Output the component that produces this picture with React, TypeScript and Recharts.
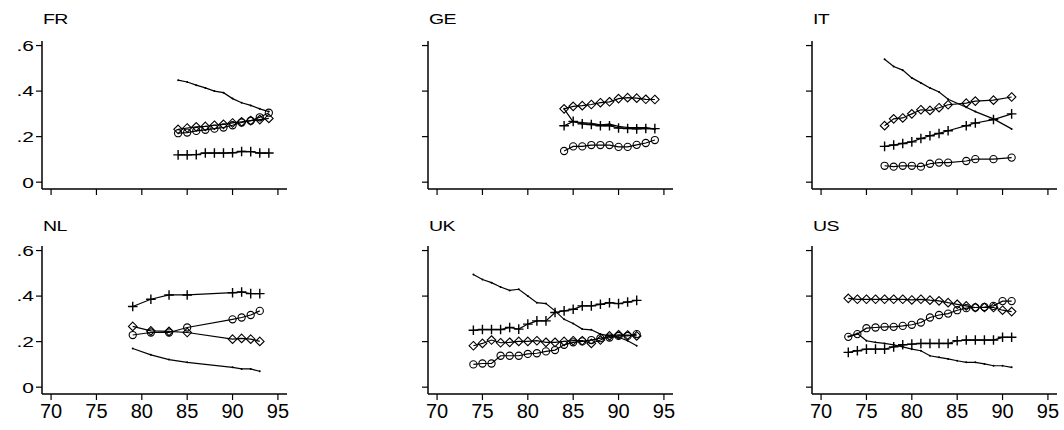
import React from "react";
import { Line, LineChart, XAxis, YAxis } from "recharts";

const xTicks = [70, 75, 80, 85, 90, 95];
const yTicks = [0, 0.2, 0.4, 0.6];

const frYears = [84, 85, 86, 87, 88, 89, 90, 91, 92, 93, 94];
const frLine = [0.448, 0.44, 0.426, 0.414, 0.4, 0.393, 0.367, 0.349, 0.337, 0.322, 0.31];
const frCircle = [0.215, 0.218, 0.225, 0.23, 0.235, 0.24, 0.25, 0.262, 0.27, 0.285, 0.305];
const frDiamond = [0.232, 0.238, 0.243, 0.245, 0.25, 0.254, 0.26, 0.265, 0.27, 0.275, 0.28];
const frPlus = [0.12, 0.12, 0.121, 0.128, 0.128, 0.128, 0.129, 0.135, 0.134, 0.128, 0.128];

const geYears = [84, 85, 86, 87, 88, 89, 90, 91, 92, 93, 94];
const geLine = [0.322, 0.265, 0.262, 0.258, 0.252, 0.255, 0.245, 0.24, 0.24, 0.24, 0.232];
const geCircle = [0.137, 0.157, 0.157, 0.163, 0.163, 0.163, 0.155, 0.155, 0.164, 0.172, 0.185];
const geDiamond = [0.322, 0.333, 0.336, 0.341, 0.349, 0.353, 0.367, 0.371, 0.369, 0.364, 0.363];
const gePlus = [0.248, 0.267, 0.256, 0.253, 0.248, 0.248, 0.238, 0.236, 0.234, 0.236, 0.235];

const itYears = [77, 78, 79, 80, 81, 82, 83, 84, 86, 87, 89, 91];
const itLine = [0.54, 0.508, 0.492, 0.458, 0.436, 0.414, 0.396, 0.364, 0.329, 0.31, 0.278, 0.234];
const itCircle = [0.072, 0.068, 0.072, 0.072, 0.068, 0.081, 0.086, 0.086, 0.093, 0.101, 0.101, 0.108];
const itDiamond = [0.248, 0.278, 0.282, 0.3, 0.318, 0.315, 0.327, 0.34, 0.347, 0.356, 0.36, 0.374];
const itPlus = [0.157, 0.163, 0.17, 0.177, 0.192, 0.204, 0.214, 0.226, 0.248, 0.26, 0.275, 0.3];

const nlYears = [79, 81, 83, 85, 90, 91, 92, 93];
const nlLine = [0.17, 0.142, 0.121, 0.109, 0.087, 0.08, 0.08, 0.07];
const nlCircle = [0.229, 0.24, 0.24, 0.262, 0.298, 0.306, 0.317, 0.335];
const nlDiamond = [0.267, 0.247, 0.245, 0.24, 0.211, 0.214, 0.211, 0.201];
const nlPlus = [0.354, 0.386, 0.405, 0.405, 0.415, 0.418, 0.411, 0.411];

const ukYears = [74, 75, 76, 77, 78, 79, 80, 81, 82, 83, 84, 85, 86, 87, 88, 89, 90, 91, 92];
const ukLine = [0.495, 0.473, 0.459, 0.44, 0.425, 0.43, 0.4, 0.371, 0.367, 0.335, 0.298, 0.28, 0.255, 0.252, 0.233, 0.225, 0.219, 0.204, 0.182];
const ukCircle = [0.1, 0.104, 0.104, 0.138, 0.138, 0.138, 0.146, 0.149, 0.157, 0.163, 0.186, 0.197, 0.201, 0.207, 0.215, 0.218, 0.225, 0.225, 0.233];
const ukDiamond = [0.182, 0.192, 0.207, 0.195, 0.197, 0.201, 0.201, 0.204, 0.197, 0.197, 0.201, 0.204, 0.204, 0.192, 0.207, 0.225, 0.23, 0.229, 0.225];
const ukPlus = [0.25, 0.253, 0.253, 0.253, 0.262, 0.255, 0.277, 0.291, 0.291, 0.328, 0.335, 0.342, 0.357, 0.357, 0.364, 0.371, 0.367, 0.374, 0.381];

const usYears = [73, 74, 75, 76, 77, 78, 79, 80, 81, 82, 83, 84, 85, 86, 87, 88, 89, 90, 91];
const usLine = [0.222, 0.236, 0.204, 0.197, 0.192, 0.186, 0.177, 0.167, 0.16, 0.138, 0.131, 0.124, 0.116, 0.109, 0.109, 0.102, 0.094, 0.094, 0.087];
const usCircle = [0.221, 0.233, 0.259, 0.262, 0.265, 0.265, 0.269, 0.274, 0.284, 0.306, 0.317, 0.323, 0.338, 0.347, 0.35, 0.352, 0.357, 0.378, 0.378];
const usDiamond = [0.39, 0.386, 0.386, 0.386, 0.386, 0.386, 0.386, 0.383, 0.386, 0.382, 0.379, 0.371, 0.364, 0.357, 0.35, 0.35, 0.35, 0.338, 0.332];
const usPlus = [0.153, 0.16, 0.167, 0.167, 0.167, 0.177, 0.186, 0.189, 0.192, 0.192, 0.192, 0.192, 0.204, 0.207, 0.207, 0.207, 0.207, 0.219, 0.219];

const panels = [
  { name: "FR", years: frYears, line: frLine, circle: frCircle, diamond: frDiamond, plus: frPlus },
  { name: "GE", years: geYears, line: geLine, circle: geCircle, diamond: geDiamond, plus: gePlus },
  { name: "IT", years: itYears, line: itLine, circle: itCircle, diamond: itDiamond, plus: itPlus },
  { name: "NL", years: nlYears, line: nlLine, circle: nlCircle, diamond: nlDiamond, plus: nlPlus },
  { name: "UK", years: ukYears, line: ukLine, circle: ukCircle, diamond: ukDiamond, plus: ukPlus },
  { name: "US", years: usYears, line: usLine, circle: usCircle, diamond: usDiamond, plus: usPlus },
];

const FONT = "'Liberation Sans', Arial, sans-serif";
const COL_LEFT = [0, 386, 770];
const ROW_TOP = [-1, 204];
const TITLE_TOP = [12, 14];

const fmtY = (v: number) => (v === 0 ? "0" : String(v).replace(/^0/, ""));

// stata-style text is wide and squat, so stretch horizontally
const YTick = (p: any) => (
  <g transform={`translate(${p.x},${p.y})`}>
    <text transform="scale(1.4,1)" textAnchor="end" dy="0.36em" fontSize={15} fontFamily={FONT} fill="#000">
      {fmtY(p.payload.value)}
    </text>
  </g>
);
const XTick = (p: any) => (
  <g transform={`translate(${p.x},${p.y})`}>
    <text textAnchor="middle" dy="0.78em" fontSize={20} fontFamily={FONT} fill="#000">
      {p.payload.value}
    </text>
  </g>
);
const NoTick = () => <g />;

const smallDot = (p: any) => (
  <circle key={`l${p.index}`} cx={p.cx} cy={p.cy} r={1} fill="#000" stroke="none" />
);
const circleDot = (p: any) => (
  <circle key={`c${p.index}`} cx={p.cx} cy={p.cy} r={3.6} fill="none" stroke="#000" strokeWidth={1.1} />
);
const diamondDot = (p: any) => (
  <path
    key={`d${p.index}`}
    d={`M${p.cx},${p.cy - 4.3}L${p.cx + 4.3},${p.cy}L${p.cx},${p.cy + 4.3}L${p.cx - 4.3},${p.cy}Z`}
    fill="none"
    stroke="#000"
    strokeWidth={1.1}
  />
);
const plusDot = (p: any) => (
  <path
    key={`p${p.index}`}
    d={`M${p.cx - 4.8},${p.cy}H${p.cx + 4.8}M${p.cx},${p.cy - 4.8}V${p.cy + 4.8}`}
    fill="none"
    stroke="#000"
    strokeWidth={1.4}
  />
);

function Panel({ panel, col, row }: { panel: (typeof panels)[number]; col: number; row: number }) {
  const data = panel.years.map((year, i) => ({
    year,
    line: panel.line[i],
    circle: panel.circle[i],
    diamond: panel.diamond[i],
    plus: panel.plus[i],
  }));
  const showY = col === 0;
  const showX = row === 1;

  return (
    <div style={{ position: "absolute", left: COL_LEFT[col], top: ROW_TOP[row], width: 330, height: 220 }}>
      <div
        style={{
          position: "absolute",
          left: 43,
          top: TITLE_TOP[row],
          fontFamily: FONT,
          fontSize: 15,
          lineHeight: "15px",
          letterSpacing: -0.5,
          transform: "scaleX(1.3)",
          transformOrigin: "left top",
          color: "#000",
        }}
      >
        {panel.name}
      </div>
      <LineChart width={330} height={220} data={data} margin={{ top: 42, right: 43, bottom: 0, left: 0 }}>
        <XAxis
          dataKey="year"
          type="number"
          domain={[69, 96]}
          ticks={xTicks}
          allowDataOverflow
          height={30}
          tickSize={6}
          axisLine={{ stroke: "#000", strokeWidth: 1.5 }}
          tickLine={{ stroke: "#000", strokeWidth: 1.2 }}
          tick={showX ? XTick : NoTick}
        />
        <YAxis
          type="number"
          domain={[-0.03, 0.62]}
          ticks={yTicks}
          allowDataOverflow
          width={42}
          tickSize={6}
          axisLine={{ stroke: "#000", strokeWidth: 1.5 }}
          tickLine={{ stroke: "#000", strokeWidth: 1.2 }}
          tick={showY ? YTick : NoTick}
        />
        <Line type="linear" dataKey="line" stroke="#000" strokeWidth={1.2} dot={smallDot} isAnimationActive={false} />
        <Line type="linear" dataKey="circle" stroke="#000" strokeWidth={1.2} dot={circleDot} isAnimationActive={false} />
        <Line type="linear" dataKey="diamond" stroke="#000" strokeWidth={1.2} dot={diamondDot} isAnimationActive={false} />
        <Line type="linear" dataKey="plus" stroke="#000" strokeWidth={1.2} dot={plusDot} isAnimationActive={false} />
      </LineChart>
    </div>
  );
}

export default function App() {
  return (
    <div style={{ position: "absolute", left: 0, top: 0, width: 1064, height: 430, background: "#fff" }}>
      {panels.map((panel, i) => (
        <Panel key={panel.name} panel={panel} col={i % 3} row={Math.floor(i / 3)} />
      ))}
    </div>
  );
}
